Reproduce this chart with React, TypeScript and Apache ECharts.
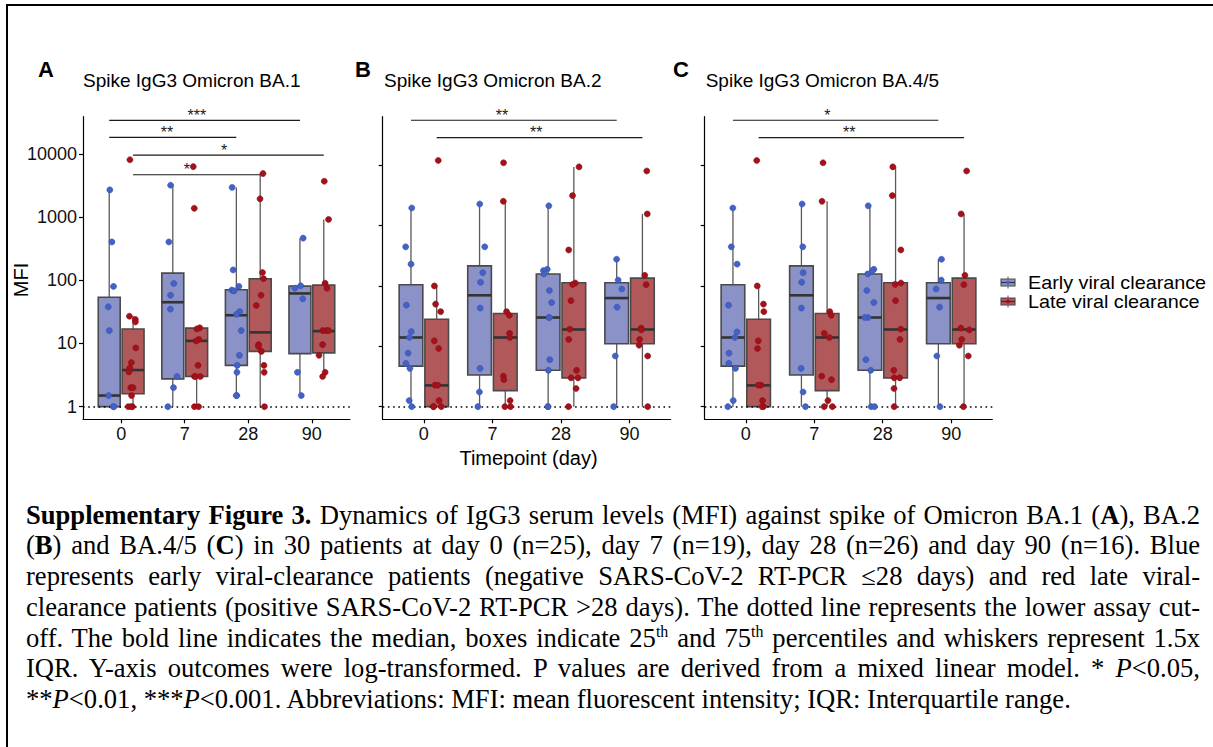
import React, { useEffect, useRef } from "react";
import * as echarts from "echarts";

// ---------------- DATA ----------------
const DAYS = ["0", "7", "28", "90"];
const GROUP_NAMES = ["Early viral clearance", "Late viral clearance"];
const Y_TICKS = [1, 10, 100, 1000, 10000];
const PANEL_TITLES = ["Spike IgG3 Omicron BA.1", "Spike IgG3 Omicron BA.2", "Spike IgG3 Omicron BA.4/5"];
const PANEL_LETTERS = ["A", "B", "C"];
const X_TITLE = "Timepoint (day)";
const Y_TITLE = "MFI";
const CUTOFF = 1;

// Panel A – BA.1 (points per day: 0, 7, 28, 90)
const BA1_EARLY_POINTS = [
  [2700, 405, 80, 38, 16, 1.5, 1, 1],
  [3200, 405, 89, 58, 35, 3.0, 2.0, 1],
  [2950, 146, 80, 70, 68, 32, 29, 16, 6.5, 4.5, 3.5, 1.5, 1.5],
  [465, 82, 75, 51, 3.5, 1.5],
];
const BA1_LATE_POINTS = [
  [8100, 27, 24, 22, 8.5, 5.0, 4.1, 3.55, 2.0, 2.0, 1.5, 1, 1, 1],
  [6300, 1380, 17.7, 17, 11.6, 11, 4.5, 3.0, 3.0, 3.0, 1, 1],
  [4900, 1950, 133, 106, 58, 40, 9.6, 9, 7.5, 4.5, 3.5, 1],
  [3700, 920, 90, 75, 16, 16, 16, 9.6, 6.5, 3.5, 3.0],
];
// box stats: [lower whisker, Q1, median, Q3, upper whisker]
const BA1_EARLY_BOX = [
  [1, 1, 1.5, 54, 2700],
  [1, 2.75, 45, 130, 3200],
  [1.5, 4.5, 28, 71, 2950],
  [1.5, 6.9, 62, 81, 465],
];
const BA1_LATE_BOX = [
  [1, 1.6, 3.8, 17, 27],
  [1, 3.0, 11, 17.5, 17.7],
  [1, 7.5, 15, 106, 4900],
  [3.0, 7.1, 15.7, 84, 920],
];
// significance brackets: [dayFrom, groupFrom, dayTo, groupTo, level, label x (day units)]
const BA1_SIGNIF = [
  [0, 0, 3, 0, 34000, 1.19],
  [0, 0, 2, 0, 18300, 0.72],
  [0, 1, 3, 1, 9600, 1.62],
  [0, 1, 2, 1, 4700, 1.035],
];
const BA1_SIGNIF_LABELS = ["***", "**", "*", "*"];

// Panel B – BA.2
const BA2_EARLY_POINTS = [
  [1960, 445, 230, 48, 17.5, 14, 7.7, 5.2, 4.3, 1.26, 1],
  [2280, 445, 166, 115, 43, 4.3, 1.75, 1],
  [2130, 189, 180, 158, 84, 53, 30, 30, 6.0, 4.0, 1, 1],
  [277, 125, 89, 44.5, 6.9, 1],
];
const BA2_LATE_POINTS = [
  [12000, 100, 50, 37.5, 12.3, 9.2, 2.27, 2.27, 1.26, 1, 1, 1],
  [11000, 2530, 37.5, 32.6, 16.4, 14, 3.2, 2.8, 1.26, 1, 1],
  [9400, 3140, 395, 112, 106, 57, 19.2, 13, 4.0, 3.0, 3.0, 2.0, 1],
  [8040, 1560, 150, 105, 20, 18.7, 13, 10.4, 6.9, 1],
];
const BA2_EARLY_BOX = [
  [1, 4.7, 14, 105, 1960],
  [1, 3.35, 70, 215, 2280],
  [1, 4.0, 30, 158, 2130],
  [1, 11, 63, 113, 277],
];
const BA2_LATE_BOX = [
  [1, 1, 2.25, 28, 100],
  [1, 1.84, 14, 35, 2530],
  [1, 3.0, 19, 113, 9400],
  [1, 11, 19, 135, 1560],
];
const BA2_SIGNIF = [
  [0, 0, 3, 0, 55700, 1.14],
  [0, 1, 3, 1, 28700, 1.64],
];
const BA2_SIGNIF_LABELS = ["**", "**"];

// Panel C – BA.4/5
const BA45_EARLY_POINTS = [
  [1960, 445, 230, 48, 17.3, 14, 7.7, 5.2, 4.3, 1.26, 1],
  [2280, 445, 166, 115, 43, 4.3, 1.75, 1],
  [2130, 189, 180, 158, 84, 53, 30, 30, 6.0, 4.0, 1, 1],
  [277, 125, 89, 44.5, 6.9, 1],
];
const BA45_LATE_POINTS = [
  [12000, 100, 50, 37.5, 12.3, 9.2, 2.27, 2.27, 1.26, 1, 1],
  [11000, 2530, 37.5, 32.6, 16.4, 14, 3.2, 2.8, 1.26, 1, 1],
  [9400, 3140, 395, 112, 106, 57, 19.2, 13, 4.0, 3.0, 3.0, 2.0, 1],
  [8040, 1560, 150, 105, 20, 18.7, 13, 10.4, 6.9, 1],
];
const BA45_EARLY_BOX = [
  [1, 4.7, 14, 105, 1960],
  [1, 3.35, 70, 215, 2280],
  [1, 4.0, 30, 158, 2130],
  [1, 11, 63, 113, 277],
];
const BA45_LATE_BOX = [
  [1, 1, 2.25, 28, 100],
  [1, 1.84, 14, 35, 2530],
  [1, 3.0, 19, 113, 9400],
  [1, 11, 19, 135, 1560],
];
const BA45_SIGNIF = [
  [0, 0, 3, 0, 55700, 1.19],
  [0, 1, 3, 1, 28700, 1.51],
];
const BA45_SIGNIF_LABELS = ["*", "**"];

// ---------------- LAYOUT / STYLE ----------------
const FONT = "'Liberation Sans', Arial, Helvetica, sans-serif";
const PANELS = [
  { points: [BA1_EARLY_POINTS, BA1_LATE_POINTS], boxes: [BA1_EARLY_BOX, BA1_LATE_BOX], signif: BA1_SIGNIF, signifLabels: BA1_SIGNIF_LABELS, yMin: 0.631, yMax: 38900, left: 83, width: 267, titleX: 83, letterX: 38 },
  { points: [BA2_EARLY_POINTS, BA2_LATE_POINTS], boxes: [BA2_EARLY_BOX, BA2_LATE_BOX], signif: BA2_SIGNIF, signifLabels: BA2_SIGNIF_LABELS, yMin: 0.617, yMax: 63800, left: 382.7, width: 288, titleX: 384, letterX: 355 },
  { points: [BA45_EARLY_POINTS, BA45_LATE_POINTS], boxes: [BA45_EARLY_BOX, BA45_LATE_BOX], signif: BA45_SIGNIF, signifLabels: BA45_SIGNIF_LABELS, yMin: 0.617, yMax: 63800, left: 704.7, width: 287.6, titleX: 705.7, letterX: 673 },
];
const GRID_TOP = 116.7;
const GRID_HEIGHT = 302.6;
const DODGE = [-0.1875, 0.1875];
const BOX_W = 0.345;
const BOX_FILL = ["#8a92c8", "#b1585b"];
const POINT_COLOR = ["#4462c3", "#a3121b"];
const POINT_BORDER = ["#3350b4", "#8e0c14"];
const BOX_STROKE = "#4a4a4a";
const WHISKER = "#5a5a5a";
const MEDIAN = "#333333";
const AXIS_COLOR = "#000";

const jitter = (p: number, g: number, d: number, i: number) => {
  const h = Math.sin((p * 131 + g * 71 + d * 29 + i * 17 + 3) * 12.9898) * 43758.5453;
  return (h - Math.floor(h) - 0.5) * 0.16;
};

const boxRenderer = (fill: string) => (params: any, api: any) => {
  const x = api.value(0);
  const lo = api.value(1), q1 = api.value(2), med = api.value(3), q3 = api.value(4), hi = api.value(5);
  const pm = api.coord([x, med]);
  const cx = pm[0], yMed = pm[1];
  const xl = api.coord([x - BOX_W / 2, med])[0];
  const xr = api.coord([x + BOX_W / 2, med])[0];
  const yQ1 = api.coord([x, q1])[1], yQ3 = api.coord([x, q3])[1];
  const yLo = api.coord([x, lo])[1], yHi = api.coord([x, hi])[1];
  return {
    type: "group",
    children: [
      { type: "line", shape: { x1: cx, y1: yQ3, x2: cx, y2: yHi }, style: { stroke: WHISKER, lineWidth: 1.3 } },
      { type: "line", shape: { x1: cx, y1: yQ1, x2: cx, y2: yLo }, style: { stroke: WHISKER, lineWidth: 1.3 } },
      { type: "rect", shape: { x: xl, y: yQ3, width: xr - xl, height: yQ1 - yQ3 }, style: { fill, stroke: BOX_STROKE, lineWidth: 1.6 } },
      { type: "line", shape: { x1: xl, y1: yMed, x2: xr, y2: yMed }, style: { stroke: MEDIAN, lineWidth: 2.6 } },
    ],
  };
};

const signifRenderer = (labels: string[]) => (params: any, api: any) => {
  const y = api.value(2);
  const p1 = api.coord([api.value(0), y]);
  const p2 = api.coord([api.value(1), y]);
  const pl = api.coord([api.value(3), y]);
  return {
    type: "group",
    children: [
      { type: "line", shape: { x1: p1[0], y1: p1[1], x2: p2[0], y2: p2[1] }, style: { stroke: "#1a1a1a", lineWidth: 1.1 } },
      {
        type: "text",
        x: pl[0],
        y: p1[1] + 3,
        style: { text: labels[params.dataIndex], fontSize: 16, fontFamily: FONT, fill: "#1a1a1a", align: "center", verticalAlign: "bottom", textAlign: "center", textVerticalAlign: "bottom" },
      },
    ],
  };
};

function buildOption(): any {
  const grid: any[] = [];
  const xAxis: any[] = [];
  const yAxis: any[] = [];
  const series: any[] = [];
  const graphic: any[] = [];

  PANELS.forEach((panel, p) => {
    grid.push({ left: panel.left, top: GRID_TOP, width: panel.width, height: GRID_HEIGHT, containLabel: false });
    xAxis.push({
      type: "value",
      gridIndex: p,
      min: -0.6,
      max: 3.6,
      splitLine: { show: false },
      axisLine: { show: true, onZero: false, lineStyle: { color: AXIS_COLOR, width: 1.2 } },
      axisTick: { show: true, customValues: [0, 1, 2, 3], length: 4, lineStyle: { color: AXIS_COLOR, width: 1.2 } },
      axisLabel: {
        customValues: [0, 1, 2, 3],
        formatter: (v: number) => DAYS[Math.round(v)],
        fontSize: 18,
        fontFamily: FONT,
        color: "#111",
        margin: 6,
      },
    });
    yAxis.push({
      type: "log",
      logBase: 10,
      gridIndex: p,
      min: panel.yMin,
      max: panel.yMax,
      splitLine: { show: false },
      minorTick: { show: false },
      axisLine: { show: true, onZero: false, lineStyle: { color: AXIS_COLOR, width: 1.2 } },
      axisTick: { show: true, customValues: Y_TICKS, length: 4, lineStyle: { color: AXIS_COLOR, width: 1.2 } },
      axisLabel: {
        show: p === 0,
        customValues: Y_TICKS,
        formatter: (v: number) => String(Math.round(v)),
        fontSize: 18,
        fontFamily: FONT,
        color: "#111",
        margin: 6,
      },
    });

    [0, 1].forEach((g) => {
      series.push({
        type: "custom",
        name: GROUP_NAMES[g],
        xAxisIndex: p,
        yAxisIndex: p,
        z: 2,
        silent: true,
        encode: { x: 0, y: [1, 2, 3, 4, 5] },
        data: panel.boxes[g].map((b, d) => [d + DODGE[g], ...b]),
        renderItem: boxRenderer(BOX_FILL[g]),
      });
    });
    series.push({
      type: "custom",
      xAxisIndex: p,
      yAxisIndex: p,
      z: 3,
      silent: true,
      encode: { x: [0, 1, 3], y: 2 },
      data: panel.signif.map((s) => [s[0] + DODGE[s[1]], s[2] + DODGE[s[3]], s[4], s[5]]),
      renderItem: signifRenderer(panel.signifLabels),
    });
    [0, 1].forEach((g) => {
      const data: number[][] = [];
      panel.points[g].forEach((vals, d) => {
        vals.forEach((v, i) => data.push([d + DODGE[g] + jitter(p, g, d, i), v]));
      });
      series.push({
        type: "scatter",
        name: GROUP_NAMES[g],
        xAxisIndex: p,
        yAxisIndex: p,
        z: 4,
        symbolSize: 6,
        itemStyle: { color: POINT_COLOR[g], borderColor: POINT_BORDER[g], borderWidth: 0.6, opacity: 1 },
        data,
        markLine:
          g === 0
            ? {
                silent: true,
                symbol: ["none", "none"],
                label: { show: false },
                lineStyle: { type: [1.6, 3.6], color: "#000", width: 1.6 },
                data: [{ yAxis: CUTOFF }],
                z: 3,
              }
            : undefined,
      });
    });

    graphic.push({
      type: "text",
      x: panel.titleX,
      y: 80,
      style: { text: PANEL_TITLES[p], fontSize: 19, fontFamily: FONT, fill: "#000", align: "left", verticalAlign: "middle" },
    });
    graphic.push({
      type: "text",
      x: panel.letterX,
      y: 69,
      style: { text: PANEL_LETTERS[p], fontSize: 22, fontWeight: "bold", fontFamily: FONT, fill: "#000", align: "left", verticalAlign: "middle" },
    });
  });

  // axis titles
  graphic.push({
    type: "text",
    x: 528.5,
    y: 458,
    style: { text: X_TITLE, fontSize: 20, fontFamily: FONT, fill: "#000", align: "center", verticalAlign: "middle" },
  });
  graphic.push({
    type: "text",
    x: 21,
    y: 280,
    rotation: Math.PI / 2,
    style: { text: Y_TITLE, fontSize: 20, fontFamily: FONT, fill: "#000", align: "center", verticalAlign: "middle" },
  });

  // legend
  const LEG_Y = [282.5, 301.5];
  GROUP_NAMES.forEach((name, g) => {
    const y = LEG_Y[g];
    graphic.push({
      type: "group",
      children: [
        { type: "line", shape: { x1: 1008, y1: y - 6, x2: 1008, y2: y + 6 }, style: { stroke: WHISKER, lineWidth: 1 } },
        { type: "rect", shape: { x: 1001, y: y - 3.5, width: 14, height: 7 }, style: { fill: BOX_FILL[g], stroke: BOX_STROKE, lineWidth: 1.1 } },
        { type: "line", shape: { x1: 1001, y1: y, x2: 1015, y2: y }, style: { stroke: MEDIAN, lineWidth: 1.2 } },
        { type: "circle", shape: { cx: 1008, cy: y, r: 2 }, style: { fill: POINT_COLOR[g] } },
        { type: "text", x: 1028, y, scaleX: 1.1, style: { text: name, fontSize: 18, fontFamily: FONT, fill: "#000", align: "left", verticalAlign: "middle" } },
      ],
    });
  });

  // frame
  graphic.push({ type: "line", shape: { x1: 6, y1: 5, x2: 1213, y2: 5 }, style: { stroke: "#000", lineWidth: 2 } });
  graphic.push({ type: "line", shape: { x1: 7, y1: 4, x2: 7, y2: 747 }, style: { stroke: "#000", lineWidth: 2 } });

  return { animation: false, backgroundColor: "#fff", grid, xAxis, yAxis, series, graphic };
}

// ---------------- CAPTION ----------------
const SUP = { fontSize: "60%", lineHeight: 0, verticalAlign: "super" } as const;
const CAPTION_LINES: React.ReactNode[] = [
  <><b>Supplementary Figure 3.</b> Dynamics of IgG3 serum levels (MFI) against spike of Omicron BA.1 (<b>A</b>), BA.2</>,
  <>(<b>B</b>) and BA.4/5 (<b>C</b>) in 30 patients at day 0 (n=25), day 7 (n=19), day 28 (n=26) and day 90 (n=16). Blue</>,
  <>represents early viral-clearance patients (negative SARS-CoV-2 RT-PCR ≤28 days) and red late viral-</>,
  <>clearance patients (positive SARS-CoV-2 RT-PCR &gt;28 days). The dotted line represents the lower assay cut-</>,
  <>off. The bold line indicates the median, boxes indicate 25<sup style={SUP}>th</sup> and 75<sup style={SUP}>th</sup> percentiles and whiskers represent 1.5x</>,
  <>IQR. Y-axis outcomes were log-transformed. P values are derived from a mixed linear model. * <i>P</i>&lt;0.05,</>,
  <>**<i>P</i>&lt;0.01, ***<i>P</i>&lt;0.001. Abbreviations: MFI: mean fluorescent intensity; IQR: Interquartile range.</>,
];

export default function App() {
  const ref = useRef<HTMLDivElement>(null);
  useEffect(() => {
    if (!ref.current) return;
    const chart = echarts.init(ref.current, null, { renderer: "svg" });
    chart.setOption(buildOption());
    return () => chart.dispose();
  }, []);
  return (
    <div style={{ position: "fixed", left: 0, top: 0, width: 1213, height: 747, background: "#fff", overflow: "hidden" }}>
      <div ref={ref} style={{ position: "absolute", left: 0, top: 0, width: 1213, height: 747 }} />
      <div
        style={{
          position: "absolute",
          left: 26,
          top: 499.7,
          width: 1174,
          fontFamily: "'Liberation Serif', 'Times New Roman', serif",
          fontSize: 26.6,
          lineHeight: "30.7px",
          color: "#000",
        }}
      >
        {CAPTION_LINES.map((line, i) => (
          <div
            key={i}
            style={i < CAPTION_LINES.length - 1 ? { textAlign: "justify", textAlignLast: "justify", whiteSpace: "nowrap" } : { whiteSpace: "nowrap" }}
          >
            {line}
          </div>
        ))}
      </div>
    </div>
  );
}
